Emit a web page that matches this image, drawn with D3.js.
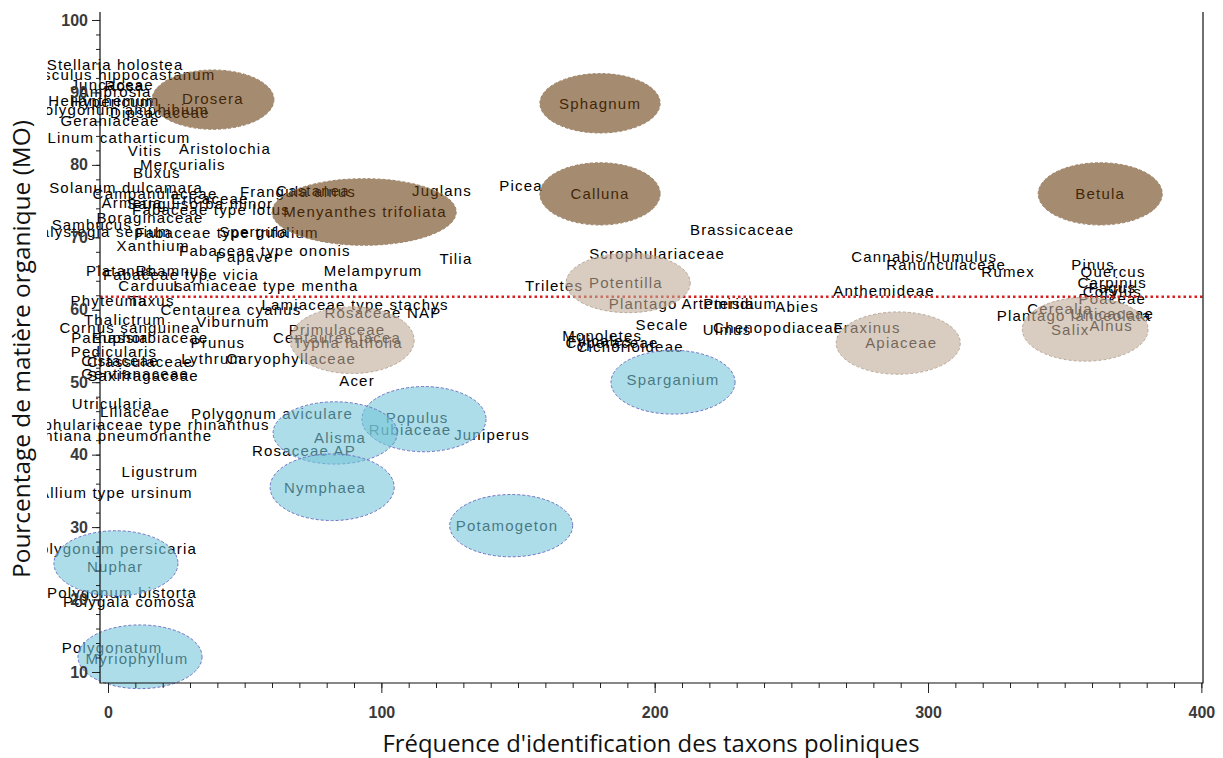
<!DOCTYPE html>
<html><head><meta charset="utf-8">
<script src="https://cdn.jsdelivr.net/npm/d3@7"></script>
<style>body{margin:0;background:#fff;}</style>
</head><body>
<svg id="chart" width="1223" height="758"></svg>
<script>
// ---- data ----
const taxa = ["Stellaria holostea","Aesculus hippocastanum","Ambrosia","Geraniaceae","Linum catharticum","Vitis","Aristolochia","Mercurialis","Buxus",
"Solanum dulcamara","Campanulaceae","Frangula alnus","Castanea","Boraginaceae","Xanthium","Fabaceae type ononis","Papaver","Rhamnus","Lamiaceae type mentha",
"Phyteuma","Taxus","Centaurea cyanus","Lamiaceae type stachys","Rosaceae NAP","Thalictrum","Cornus sanguinea","Viburnum","Euphorbiaceae","Prunus",
"Centaurea jacea","Primulaceae","Typha latifolia","Caryophyllaceae","Pedicularis","Lythrum","Saxifragaceae","Acer","Utricularia","Liliaceae",
"Polygonum aviculare","Scrophulariaceae type rhinanthus","Gentiana pneumonanthe","Rosaceae AP","Ligustrum","Allium type ursinum","Polygonum persicaria",
"Nuphar","Polygonum bistorta","Polygala comosa","Polygonatum","Myriophyllum","Drosera","Sphagnum","Calluna","Menyanthes trifoliata","Betula",
"Potentilla","Plantago","Picea","Juglans","Tilia","Melampyrum","Triletes","Brassicaceae","Scrophulariaceae","Abies","Secale","Ulmus","Chenopodiaceae",
"Fraxinus","Monoletes","Cannabis/Humulus","Ranunculaceae","Rumex","Anthemideae","Pinus","Quercus","Carpinus","Poaceae","Salix","Alnus","Apiaceae",
"Sparganium","Populus","Rubiaceae","Juniperus","Alisma","Nymphaea","Potamogeton",
"Juncaceae","Rosa","Helianthemum","Hypericum","Polygonum amphibium","Dipsacaceae","Ericaceae","Armeria","Sanguisorba minor","Fabaceae type lotus",
"Sambucus","Calystegia sepium","Fabaceae type trifolium","Spergula","Platanus","Fabaceae type vicia","Carduus","Parnassia","Cistaceae","Crassulaceae",
"Gentianaceae","Artemisia","Pteridium","Filicales","Cyperaceae","Cichorioideae","Fagus","Corylus","Cerealia","Plantago lanceolata","Urticaceae"];
const freq = [2.6,4.0,2.6,0.7,4.0,13.5,42.8,27.4,17.9,
6.6,17.2,69.5,75.0,15.4,16.5,57.4,51.2,23.4,57.8,
0.4,16.1,45.0,90.4,100.6,6.2,8.0,45.7,15.4,40.2,
83.8,83.8,87.8,67.0,2.2,38.1,12.8,91.1,1.5,9.9,
60.0,11.3,3.3,71.7,19.0,2.9,1.8,
2.6,5.1,7.7,1.5,10.6,38.4,180.0,180.0,94.0,363.0,
189.5,195.8,151.1,122.2,127.3,97.0,163.2,232.0,200.9,252.1,202.7,226.5,245.2,
277.7,180.8,298.6,306.6,329.3,283.9,360.4,367.7,367.4,367.4,352.0,367.0,290.2,
206.7,113.1,110.5,140.5,84.9,79.4,146.0,
1.5,6.0,-1.5,1.5,4.8,19.0,37.3,8.8,33.7,37.7,
-5.9,-2.9,43.5,53.4,4.4,26.7,15.7,0.7,4.4,11.7,
9.9,223.2,231.3,180.0,184.4,191.0,367.4,367.4,348.3,353.4,367.4];
const mo = [93.8,92.4,90.1,86.1,83.8,81.9,82.3,80.0,79.0,
76.8,76.1,76.3,76.5,72.7,68.9,68.1,67.3,65.4,63.4,
61.3,61.2,60.0,60.7,59.6,58.6,57.5,58.3,56.2,55.4,
56.2,57.2,55.4,53.2,54.2,53.3,50.9,50.2,47.1,45.9,
45.6,44.1,42.6,40.6,37.6,34.7,27.0,
24.6,21.0,19.7,13.3,11.9,89.2,88.5,76.0,73.5,76.0,
63.7,60.9,77.2,76.5,67.0,65.4,63.4,71.1,67.8,60.5,57.9,57.2,57.6,
57.5,56.5,67.3,66.2,65.2,62.6,66.3,65.2,63.8,61.6,57.2,57.8,55.5,
50.3,45.1,43.4,42.8,42.4,35.5,30.2,
91.1,91.0,88.9,88.7,87.6,87.2,75.4,74.8,74.6,73.8,
71.8,70.8,70.7,70.8,65.4,64.8,63.4,56.2,53.0,52.8,
51.2,60.8,60.8,55.8,55.5,54.9,63.0,62.5,60.1,59.2,59.5];

// ellipses (groups)
const ellGroup = ["brown","brown","brown","brown","brown","beige","beige","beige","beige","blue","blue","blue","blue","blue","blue","blue"];
const ellX  = [38.4,180.0,180.0,93.7,363.0,190.3,89.3,289.1,357.5,206.7,115.6,83.1,82.0,147.5,2.9,11.7];
const ellY  = [89.0,88.5,76.0,73.5,76.0,63.7,55.8,55.4,57.3,50.0,44.9,43.0,35.5,30.2,25.0,12.1];
const ellRX = [22.3,22.0,22.0,33.7,22.7,22.7,22.7,22.7,23.0,22.7,22.7,22.7,22.7,22.5,22.7,22.7];
const ellRY = [4.1,4.1,4.3,4.6,4.3,4.1,4.6,4.3,4.4,4.4,4.5,4.3,4.6,4.3,4.5,4.4];

const meanMO = 61.8;
const xTicks = [0,100,200,300,400];
const yTicks = [10,20,30,40,50,60,70,80,90,100];
const xTitle = "Fréquence d'identification des taxons poliniques";
const yTitle = "Pourcentage de matière organique (MO)";

// ---- drawing ----
const svg = d3.select("#chart");
const L=100, R=1203, T=12, B=683;
const x = d3.scaleLinear().domain([-2.93,400.6]).range([L,R]);
const y = d3.scaleLinear().domain([8.48,101.1]).range([B,T]);

const colors = {brown:"#693E0F", beige:"#C0AA96", blue:"#76C6D9"};
const strokes = {brown:"#9c8468", beige:"#b8a898", blue:"#6f72c4"};

svg.append("clipPath").attr("id","clip").append("rect").attr("x",47).attr("y",0).attr("width",1176).attr("height",758);

const g = svg.append("g").attr("clip-path","url(#clip)");
g.selectAll("text.lab").data(taxa).join("text").attr("class","lab")
 .attr("x",(d,i)=>x(freq[i])).attr("y",(d,i)=>y(mo[i]))
 .attr("text-anchor","middle").attr("dy","0.36em")
 .style("font-family","'Liberation Sans', Arial, sans-serif").style("font-size","15px").style("letter-spacing","1.2px")
 .attr("fill","#000").text(d=>d);

// mean line
svg.append("line").attr("x1",L).attr("x2",R).attr("y1",y(meanMO)).attr("y2",y(meanMO))
 .attr("stroke","#d42020").attr("stroke-width",2.5).attr("stroke-dasharray","2.5,3");

// ellipses over text
svg.append("g").selectAll("ellipse").data(ellGroup).join("ellipse")
 .attr("cx",(d,i)=>x(ellX[i])).attr("cy",(d,i)=>y(ellY[i]))
 .attr("rx",(d,i)=>x(ellX[i]+ellRX[i])-x(ellX[i])).attr("ry",(d,i)=>y(ellY[i])-y(ellY[i]+ellRY[i]))
 .attr("fill",d=>colors[d]).attr("fill-opacity",0.6)
 .attr("stroke",d=>strokes[d]).attr("stroke-width",1).attr("stroke-dasharray","3,2");

// axes
svg.append("g").attr("transform",`translate(0,${B})`)
 .call(d3.axisBottom(x).tickValues(xTicks).tickSize(10).tickPadding(14).tickFormat(d3.format("d")));
svg.append("g").attr("transform",`translate(0,${B})`)
 .call(d3.axisBottom(x).tickValues(d3.range(0,401,10)).tickSize(5).tickFormat(""));
svg.append("g").attr("transform",`translate(${L},0)`)
 .call(d3.axisLeft(y).tickValues(yTicks).tickSize(8).tickPadding(4).tickFormat(d3.format("d")));
svg.append("g").attr("transform",`translate(${L},0)`)
 .call(d3.axisLeft(y).tickValues(d3.range(10,101,2)).tickSize(4).tickFormat(""));
svg.selectAll(".domain").remove();
svg.selectAll(".tick line").attr("stroke","#222");
svg.selectAll(".tick text").style("font-family","'Liberation Sans', Arial, sans-serif").style("font-size","16px").style("font-weight","bold").attr("fill","#3a3a3a");
// frame
svg.append("path").attr("d",`M${L},${T}V${B}H${R}V${T}`).attr("fill","none").attr("stroke","#111").attr("stroke-width",1.2);

svg.append("text").attr("x",651).attr("y",752).attr("text-anchor","middle")
 .attr("textLength",537).attr("lengthAdjust","spacingAndGlyphs")
 .style("font-family","'Open Sans', sans-serif").style("font-size","24px").attr("fill","#111").text(xTitle);
svg.append("text").attr("transform","translate(30,349) rotate(-90)").attr("text-anchor","middle")
 .attr("textLength",458).attr("lengthAdjust","spacingAndGlyphs")
 .style("font-family","'Open Sans', sans-serif").style("font-size","24px").attr("fill","#111").text(yTitle);
</script>
</body></html>
